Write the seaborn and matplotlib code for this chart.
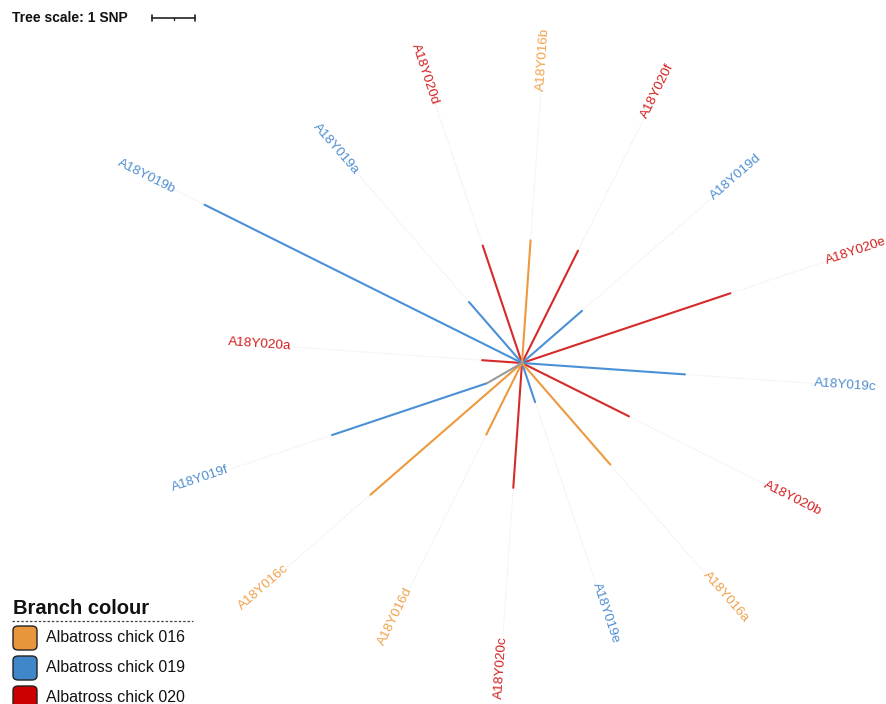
import numpy as np
import pandas as pd
import matplotlib
matplotlib.use("Agg")
import matplotlib.pyplot as plt
from matplotlib.patches import FancyBboxPatch
import seaborn as sns

# leaves, clockwise starting from the left-hand tip
leaves = ["A18Y020a", "A18Y019b", "A18Y019a", "A18Y020d", "A18Y016b", "A18Y020f",
          "A18Y019d", "A18Y020e", "A18Y019c", "A18Y020b", "A18Y016a", "A18Y019e",
          "A18Y020c", "A18Y016d", "A18Y016c", "A18Y019f"]
chick = ["020", "019", "019", "020", "016", "020", "019", "020", "019", "020",
         "016", "019", "020", "016", "016", "019"]
# terminal branch lengths (SNPs)
branch_snps = [0.93, 8.25, 1.88, 2.88, 2.86, 2.92, 1.85, 5.11, 3.80, 2.78,
               3.13, 0.96, 2.91, 1.86, 4.67, 3.80]
# internal branch (grey) leading to A18Y019f
internal_leaf = "A18Y019f"
internal_snps = 0.94

groups = ["Albatross chick 016", "Albatross chick 019", "Albatross chick 020"]
branch_col = {"016": "#ED9A3F", "019": "#4A90D6", "020": "#D62A2A"}
legend_col = {"016": "#E8963C", "019": "#3F86CB", "020": "#CC0000"}
label_col = {"016": "#F0A24E", "019": "#4F8FD0", "020": "#D42020"}

sns.set_style("white")
plt.rcParams['font.family'] = ['Liberation Sans', 'DejaVu Sans']

W, H = 887, 704
px = 43.0            # pixels per SNP
cx, cy = 522, 363    # tree centre in pixels

fig = plt.figure(figsize=(W / 100, H / 100), dpi=100)
ax = fig.add_axes([0, 0, 1, 1])
ax.set_xlim(-cx / px, (W - cx) / px)
ax.set_ylim(-(H - cy) / px, cy / px)
ax.axis("off")

rows = []
seg = 0
tips = []
for i, (name, c, L) in enumerate(zip(leaves, chick, branch_snps)):
    ang = np.deg2rad(176 - 22.5 * i)
    start = np.array([0.0, 0.0])
    total = L
    offset = 0.0
    if name == internal_leaf:
        a2 = np.deg2rad(-150)
        start = internal_snps * np.array([np.cos(a2), np.sin(a2)])
        rows.append(dict(x=0.0, y=0.0, seg=seg, grp="internal"))
        rows.append(dict(x=start[0], y=start[1], seg=seg, grp="internal"))
        seg += 1
        total = L + internal_snps
        offset = internal_snps
    end = start + L * np.array([np.cos(ang), np.sin(ang)])
    rows.append(dict(x=start[0], y=start[1], seg=seg, grp=c))
    rows.append(dict(x=end[0], y=end[1], seg=seg, grp=c))
    seg += 1
    tips.append((name, c, ang, start, end, total, offset))

df = pd.DataFrame(rows)
pal = dict(branch_col)
pal["internal"] = "#9A9A9A"

# dotted leader lines and labels
for name, c, ang, start, end, total, offset in tips:
    r_lab = 4.93 + 0.495 * total - offset
    lab = start + r_lab * np.array([np.cos(ang), np.sin(ang)])
    ax.plot([end[0], lab[0]], [end[1], lab[1]], color="#E4E4E4", lw=0.7,
            ls=(0, (1, 1.5)), zorder=1)
    deg = np.rad2deg(ang)
    if -90 < deg < 90:
        rot, ha = deg, "left"
    else:
        rot, ha = deg + 180, "right"
    ax.text(lab[0], lab[1], name, rotation=rot, rotation_mode="anchor",
            ha=ha, va="center", fontsize=9.7, color=label_col[c])

sns.lineplot(data=df, x="x", y="y", units="seg", hue="grp", estimator=None,
             sort=False, palette=pal, lw=1.5, legend=False, ax=ax, zorder=3)
ax.set_xlabel("")
ax.set_ylabel("")

# tree scale
def tx(xp):
    return (xp - cx) / px

def ty(yp):
    return (cy - yp) / px

fig.text(12 / W, 1 - 18 / H, "Tree scale: 1 SNP", fontsize=10, fontweight="bold",
         ha="left", va="center", color="#111111")
x0 = tx(152)
y0 = ty(18)
ax.plot([x0, x0 + 1], [y0, y0], color="#222222", lw=1.2, clip_on=False)
for xx, h in [(x0, 0.07), (x0 + 1, 0.07)]:
    ax.plot([xx, xx], [y0 - h, y0 + h], color="#222222", lw=1.2, clip_on=False)
ax.plot([x0 + 0.5, x0 + 0.5], [y0 - 0.04, y0], color="#222222", lw=1.0,
        clip_on=False)

# legend
fig.text(13 / W, 1 - 608 / H, "Branch colour", fontsize=14.5, fontweight="bold",
         ha="left", va="center", color="#111111")
fig.add_artist(plt.Line2D([12 / W, 193 / W], [1 - 621 / H, 1 - 621 / H],
                          color="#444444", lw=0.9, ls=(0, (2, 1.5))))
for k, (g, key) in enumerate(zip(groups, ["016", "019", "020"])):
    yc = 638 + 30 * k
    box = FancyBboxPatch((13 / W, 1 - (yc + 12) / H), 24 / W, 24 / H,
                         boxstyle="round,pad=0,rounding_size=0.006",
                         transform=fig.transFigure, facecolor=legend_col[key],
                         edgecolor="#222222", lw=1.0)
    fig.add_artist(box)
    fig.text(46 / W, 1 - yc / H, g, fontsize=11.5, ha="left", va="center",
             color="#111111")

fig.savefig("out.png", dpi=100)
